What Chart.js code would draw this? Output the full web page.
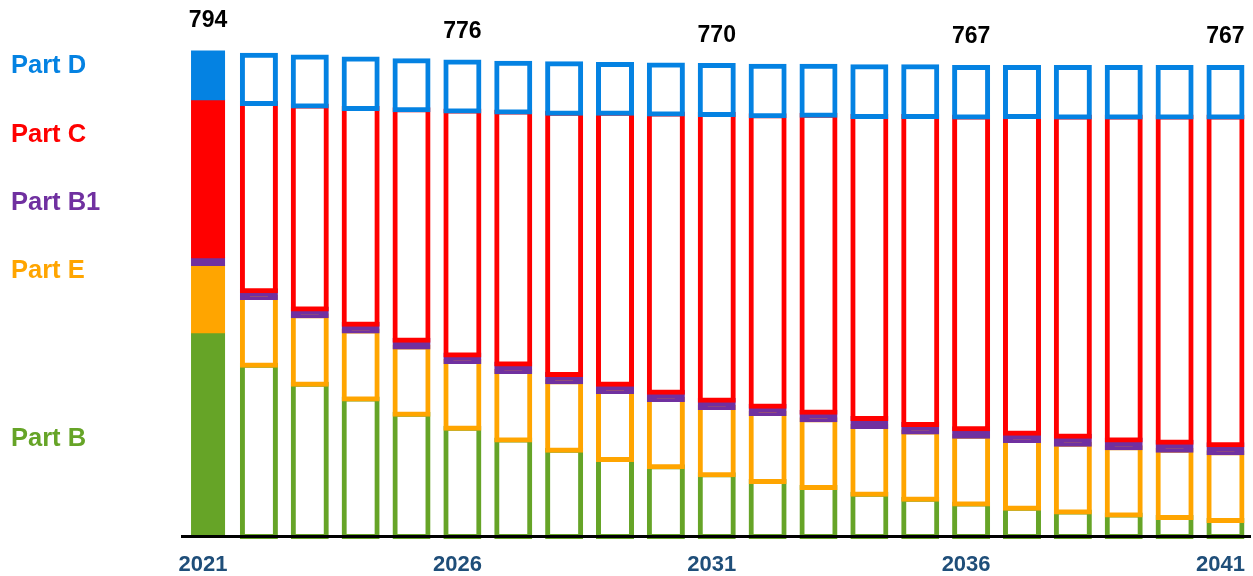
<!DOCTYPE html>
<html>
<head>
<meta charset="utf-8">
<script src="https://cdn.jsdelivr.net/npm/chart.js@4.4.0/dist/chart.umd.min.js"></script>
<style>
  html, body { margin: 0; padding: 0; background: #fff; }
  #wrap { width: 1253px; height: 576px; }
</style>
</head>
<body>
<div id="wrap"><canvas id="chart" width="1253" height="576"></canvas></div>
<script>
const years = ["2021", "2022", "2023", "2024", "2025", "2026", "2027", "2028", "2029", "2030",
  "2031", "2032", "2033", "2034", "2035", "2036", "2037", "2038", "2039", "2040", "2041"];
const tickYears = ["2021", "2026", "2031", "2036", "2041"];

// stacked bottom to top: B, E, B1, C, D
const partB = [333, 280, 249, 225, 200, 177, 158, 141, 126, 114, 101, 90, 80, 69, 61, 53, 46, 40, 35, 31, 26];
const partE = [110, 111, 112, 111, 110, 109, 112, 112, 111, 110, 110, 111, 111, 111, 110, 111, 111, 111, 110, 110, 111];
const partB1 = [13, 11, 11, 11, 11, 11, 12, 12, 12, 12, 12, 12, 12, 13, 12, 12, 12, 13, 13, 13, 13];
const partC = [258, 306, 332, 353, 377, 399, 412, 427, 443, 455, 467, 475, 486, 494, 504, 510, 518, 522, 528, 532, 536];
const partD = [80, 79, 80, 81, 80, 80, 80, 81, 80, 80, 80, 81, 80, 81, 81, 81, 80, 81, 81, 81, 81];

const FONT = '"Liberation Sans", Arial, sans-serif';

const series = [
  { name: "Part B", values: partB, color: "#66A427", labelY: 446 },
  { name: "Part E", values: partE, color: "#FFA500", labelY: 278 },
  { name: "Part B1", values: partB1, color: "#7030A0", labelY: 210, solid: true },
  { name: "Part C", values: partC, color: "#FF0000", labelY: 142 },
  { name: "Part D", values: partD, color: "#0482E2", labelY: 73 },
];

// floating bars so the bottom segment can be painted first (like the original)
const base = years.map(() => 0);
const datasets = series.map((s) => {
  const data = s.values.map((v, i) => {
    const lo = base[i];
    base[i] += v;
    return [lo, base[i]];
  });
  return {
    label: s.name,
    data,
    grouped: false,
    barPercentage: 0.649,
    categoryPercentage: 1,
    borderSkipped: false,
    borderColor: s.color,
    backgroundColor: (ctx) => (ctx.dataIndex === 0 || s.solid ? s.color : "#ffffff"),
    borderWidth: (ctx) => (ctx.dataIndex === 0 ? 0 : 5),
    inflateAmount: (ctx) => (ctx.dataIndex === 0 ? 0.5 : 2.5),
    clip: false,
  };
}).reverse();

const totals = base.slice();

const textPlugin = {
  id: "texts",
  afterDraw(chart) {
    const { ctx, scales } = chart;
    ctx.save();
    ctx.font = "bold 23px " + FONT;
    ctx.fillStyle = "#000";
    ctx.textAlign = "center";
    ctx.textBaseline = "alphabetic";
    years.forEach((y, i) => {
      if (!tickYears.includes(y)) return;
      const x = scales.x.getPixelForValue(i);
      const top = scales.y.getPixelForValue(totals[i]);
      ctx.fillText(String(totals[i]), x, top - 24);
    });
    ctx.font = "bold 25.5px " + FONT;
    ctx.textAlign = "left";
    series.forEach((s) => {
      ctx.fillStyle = s.color;
      ctx.fillText(s.name, 11, s.labelY);
    });
    ctx.restore();
  },
};

new Chart(document.getElementById("chart"), {
  type: "bar",
  data: { labels: years, datasets },
  options: {
    responsive: false,
    animation: false,
    layout: { autoPadding: false, padding: { left: 182.6, right: 2.1, top: 16.7, bottom: 0 } },
    plugins: { legend: { display: false }, tooltip: { enabled: false } },
    scales: {
      x: {
        grid: { display: false, drawTicks: false },
        border: { display: true, color: "#000", width: 3, z: 1 },
        afterFit: (scale) => { scale.height = 39.5; },
        ticks: {
          autoSkip: false,
          maxRotation: 0,
          padding: 0,
          labelOffset: -5,
          color: "#1F4E79",
          font: { family: FONT, size: 22, weight: "bold", lineHeight: 2.564 },
          callback: (v, i) => (tickYears.includes(years[i]) ? years[i] : ""),
        },
      },
      y: {
        display: false,
        min: 0,
        max: 850,
      },
    },
  },
  plugins: [textPlugin],
});
</script>
</body>
</html>
